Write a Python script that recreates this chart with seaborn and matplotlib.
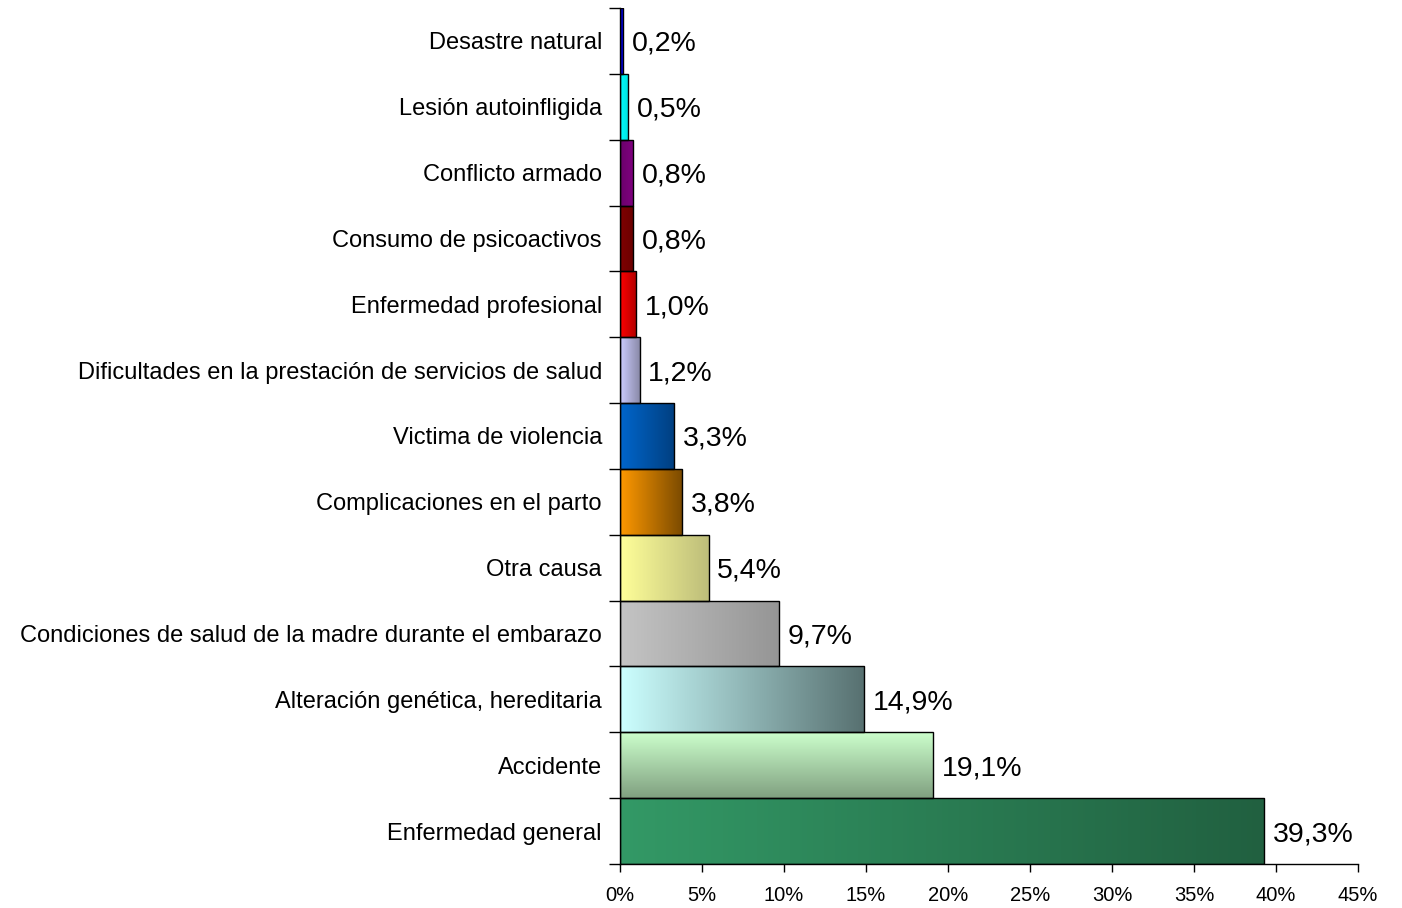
import numpy as np
import pandas as pd
import seaborn as sns
import matplotlib.pyplot as plt
from matplotlib.colors import LinearSegmentedColormap

# datos (de arriba hacia abajo)
causas = ["Desastre natural", "Lesión autoinfligida", "Conflicto armado",
          "Consumo de psicoactivos", "Enfermedad profesional",
          "Dificultades en la prestación de servicios de salud",
          "Victima de violencia", "Complicaciones en el parto", "Otra causa",
          "Condiciones de salud de la madre durante el embarazo",
          "Alteración genética, hereditaria", "Accidente", "Enfermedad general"]
porcentaje = [0.2, 0.5, 0.8, 0.8, 1.0, 1.2, 3.3, 3.8, 5.4, 9.7, 14.9, 19.1, 39.3]
etiquetas = ["0,2%", "0,5%", "0,8%", "0,8%", "1,0%", "1,2%", "3,3%", "3,8%",
             "5,4%", "9,7%", "14,9%", "19,1%", "39,3%"]

# colores de degradado (inicio, fin)
grad_ini = ["#0000FF", "#00FFFF", "#6A006A", "#800000", "#FF0000", "#CCCCFF",
            "#0066CC", "#FF9900", "#FFFF99", "#C4C4C4", "#CCFFFF", "#CCFFCC", "#339966"]
grad_fin = ["#0000CC", "#00E0E0", "#800080", "#6A0000", "#B00000", "#8A8AA8",
            "#003F80", "#7A4A00", "#BDBD7A", "#959595", "#577070", "#80A080", "#216040"]
vertical = [False] * len(causas)
vertical[11] = True

sns.set_style("white")
plt.rcParams["font.family"] = ["Liberation Sans", "DejaVu Sans"]
plt.rcParams["text.color"] = "black"
plt.rcParams["xtick.color"] = "black"
plt.rcParams["ytick.color"] = "black"

df = pd.DataFrame({"causa": causas, "pct": porcentaje})

fig = plt.figure(figsize=(14.02, 9.08), dpi=100)
ax = fig.add_axes([0.4422, 0.0485, 0.5264, 0.9427])

sns.barplot(data=df, y="causa", x="pct", orient="h", width=1.0,
            color="white", edgecolor="black", linewidth=1.0, ax=ax)

for i, p in enumerate(ax.patches):
    cmap = LinearSegmentedColormap.from_list("g%d" % i, [grad_ini[i], grad_fin[i]])
    x0, y0 = p.get_x(), p.get_y()
    w, h = p.get_width(), p.get_height()
    if vertical[i]:
        img = np.linspace(0, 1, 256).reshape(-1, 1)
    else:
        img = np.linspace(0, 1, 256).reshape(1, -1)
    im = ax.imshow(img, cmap=cmap, aspect="auto", interpolation="bicubic",
                   extent=[x0, x0 + w, y0 + h, y0], origin="upper", zorder=0.5)
    im.set_clip_path(p)
    p.set_facecolor("none")
    p.set_zorder(1)

textos = ax.bar_label(ax.containers[0], labels=etiquetas, padding=6, fontsize=20.5, color="black")
for t in textos:
    t.set_verticalalignment("center_baseline")

ax.set_xlim(0, 45)
ax.set_ylim(len(causas) - 0.5, -0.5)
ax.set_xticks(np.arange(0, 46, 5))
ax.set_xticklabels(["%d%%" % v for v in range(0, 46, 5)], fontsize=14.5)
ax.set_yticks(np.arange(len(causas)))
ax.set_yticklabels(causas, fontsize=17)
ax.set_yticks(np.arange(-0.5, len(causas), 1), minor=True)
ax.tick_params(axis="y", which="major", length=0, pad=13)
ax.tick_params(axis="y", which="minor", length=8, width=1, color="black", direction="out", left=True)
ax.tick_params(axis="x", length=6, width=1, color="black", direction="out", bottom=True, pad=10)
ax.set_xlabel("")
ax.set_ylabel("")

sns.despine(ax=ax, top=True, right=True)
for s in ["left", "bottom"]:
    ax.spines[s].set_color("black")
    ax.spines[s].set_linewidth(1)

fig.savefig("out.png", dpi=100, facecolor="white")
